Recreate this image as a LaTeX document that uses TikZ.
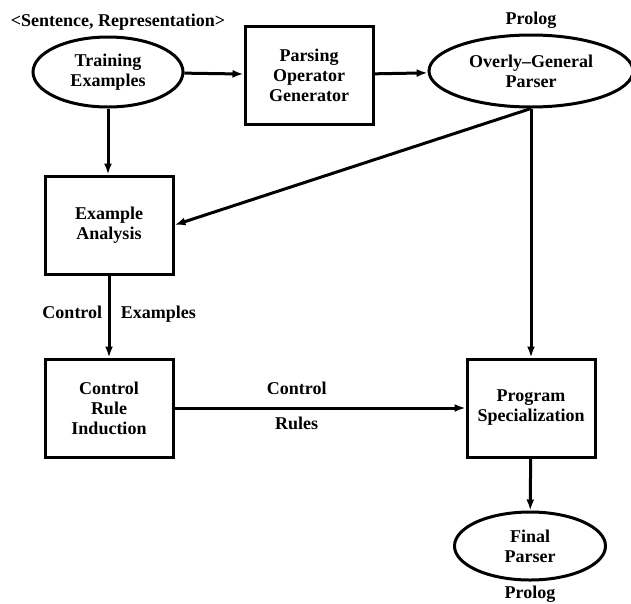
\documentclass[tikz,border=0pt]{standalone}
\usepackage{fontspec}
\setmainfont{Liberation Serif}
\usepackage{tikz}
\usetikzlibrary{shapes.geometric,arrows.meta,positioning}

\begin{document}
\begin{tikzpicture}[x=1pt,y=-1pt,
    line width=3pt,
    every node/.style={font=\fontsize{18}{20}\selectfont\bfseries, align=center},
    procbox/.style={draw, rectangle, minimum width=128pt, minimum height=98pt},
    dataoval/.style={draw, ellipse, inner sep=0pt},
    flowlabel/.style={text height=0.7em, text depth=0.25em},
    flow/.style={-{Latex[length=11pt,width=8pt]}}]
    \useasboundingbox (0,0) rectangle (631,603);

    % data
    \node[dataoval, minimum width=150pt, minimum height=70pt] (train) at (108,72) {Training\\Examples};
    \node[dataoval, minimum width=204pt, minimum height=72pt] (ogp) at (531,71) {Overly--General\\Parser};
    \node[dataoval, minimum width=151pt, minimum height=68pt] (final) at (530,546) {Final\\Parser};
    \node at (118,22) (pair) {<Sentence, Representation>};
    \node[above=0pt of ogp] (ogplang) {Prolog};
    \node[below=0pt of final] (finallang) {Prolog};

    % processes
    \node[procbox] (pog) at (309,75) {Parsing\\Operator\\Generator};
    \node[procbox] (analysis) at (109,225) {Example\\Analysis};
    \node[procbox] (induct) at (109,408) {Control\\Rule\\Induction};
    \node[procbox] (spec) at (531,408) {Program\\Specialization};

    % flows
    \draw[flow] (train) -- (pog);
    \draw[flow] (pog) -- (ogp);
    \draw[flow] (train.south) -- (train.south |- analysis.north);
    \draw[flow] (ogp.south) -- (analysis.east);
    \draw[flow] (analysis) -- (induct)
        node[flowlabel, pos=.5, left=2pt] (ctrlex1) {Control}
        node[flowlabel, pos=.5, right=7pt] (ctrlex2) {Examples};
    \draw[flow] (ogp.south) -- (spec);
    \draw[flow] (induct) -- (spec)
        node[flowlabel, pos=.42, above=6pt] (rules1) {Control}
        node[flowlabel, pos=.42, below=10pt] (rules2) {Rules};
    \draw[flow] (spec) -- (final);
\end{tikzpicture}
\end{document}
